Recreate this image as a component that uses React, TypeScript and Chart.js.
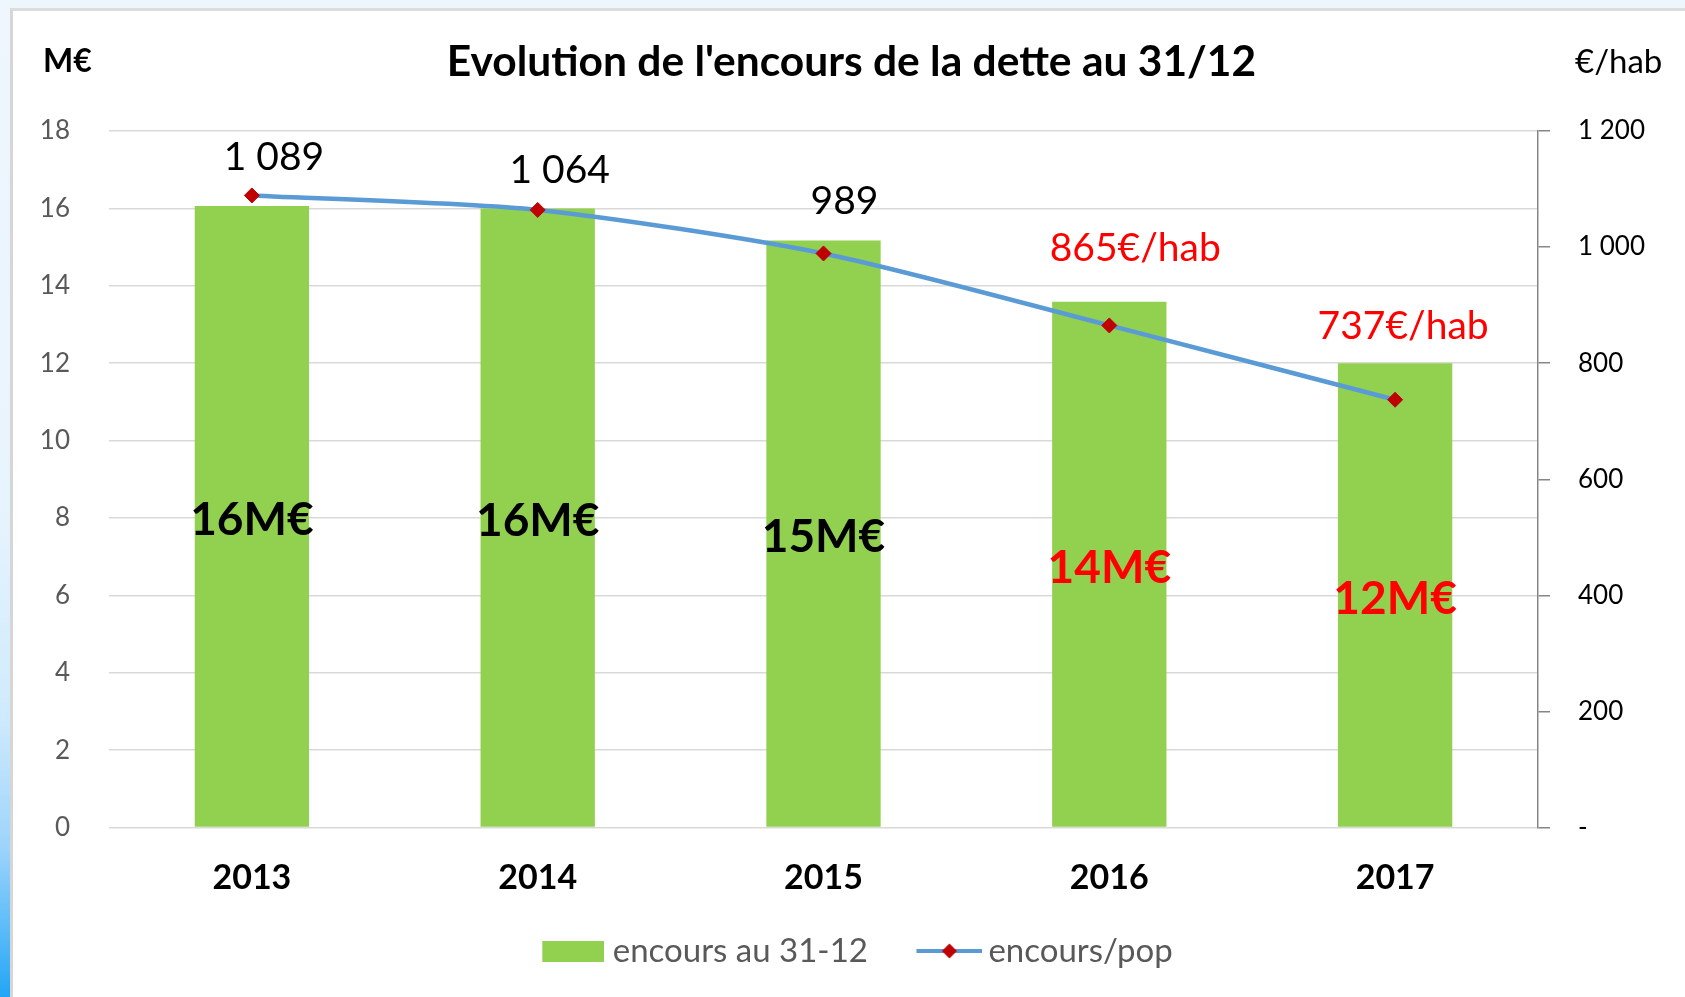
import React, { useEffect, useRef } from "react";
import { Chart, registerables } from "chart.js";

Chart.register(...registerables);

const categories = ["2013", "2014", "2015", "2016", "2017"];
const encoursMillions = [16.06, 16.0, 15.17, 13.59, 12.0];
const encoursParHab = [1089, 1064, 989, 865, 737];
const habSuffix = ["", "", "", "€/hab", "€/hab"];
const barLabelColors = ["#000000", "#000000", "#000000", "#ff0000", "#ff0000"];
const lineLabelColors = ["#000000", "#000000", "#000000", "#ff0000", "#ff0000"];
const lineLabelOffsets = [
  [22, -38],
  [22, -40],
  [21, -52],
  [26, -77],
  [8, -73],
];
const leftTicks = { min: 0, max: 18, step: 2 };
const rightTicks = { min: 0, max: 1200, step: 200 };

const FONT = "Lato";

function fmtThousands(v: number): string {
  const s = Math.round(v).toString();
  return s.replace(/\B(?=(\d{3})+(?!\d))/g, " ");
}

// legend glyphs: transparent left margin, visible part on the right
function makeBarLegendImage(): HTMLCanvasElement {
  const c = document.createElement("canvas");
  c.width = 100;
  c.height = 21;
  const ctx = c.getContext("2d")!;
  ctx.fillStyle = "#92d050";
  ctx.fillRect(38, 0, 62, 21);
  return c;
}

function makeLineLegendImage(): HTMLCanvasElement {
  const c = document.createElement("canvas");
  c.width = 105;
  c.height = 18;
  const ctx = c.getContext("2d")!;
  ctx.strokeStyle = "#5b9bd5";
  ctx.lineWidth = 4;
  ctx.beginPath();
  ctx.moveTo(39, 9);
  ctx.lineTo(105, 9);
  ctx.stroke();
  ctx.fillStyle = "#c00000";
  const cx = 72;
  ctx.beginPath();
  ctx.moveTo(cx, 1.5);
  ctx.lineTo(cx + 7.5, 9);
  ctx.lineTo(cx, 16.5);
  ctx.lineTo(cx - 7.5, 9);
  ctx.closePath();
  ctx.fill();
  return c;
}

const labelsPlugin = {
  id: "valueLabels",
  afterLayout(chart: any) {
    if (chart.titleBlock) {
      chart.titleBlock.left += 9;
      chart.titleBlock.right += 9;
    }
  },
  afterDatasetsDraw(chart: any) {
    const ctx = chart.ctx;
    ctx.save();
    const barMeta = chart.getDatasetMeta(0);
    ctx.font = `bold 46px ${FONT}`;
    ctx.textAlign = "center";
    ctx.textBaseline = "middle";
    barMeta.data.forEach((el: any, i: number) => {
      const v = encoursMillions[i];
      ctx.fillStyle = barLabelColors[i];
      ctx.fillText(`${Math.round(v)}M€`, el.x, (el.y + el.base) / 2 + 4);
    });
    const lineMeta = chart.getDatasetMeta(1);
    ctx.font = `39px ${FONT}`;
    lineMeta.data.forEach((el: any, i: number) => {
      const v = encoursParHab[i];
      ctx.fillStyle = lineLabelColors[i];
      const [dx, dy] = lineLabelOffsets[i];
      ctx.fillText(`${fmtThousands(v)}${habSuffix[i]}`, el.x + dx, el.y + dy);
    });
    // axis unit titles
    ctx.fillStyle = "#000000";
    ctx.textBaseline = "middle";
    ctx.textAlign = "left";
    ctx.font = `bold 32px ${FONT}`;
    ctx.fillText("M€", 43, 62);
    ctx.font = `33px ${FONT}`;
    ctx.fillText("€/hab", 1575, 62);
    ctx.restore();
  },
};

export default function App() {
  const canvasRef = useRef<HTMLCanvasElement | null>(null);

  useEffect(() => {
    if (!canvasRef.current) return;
    const barImg = makeBarLegendImage();
    const lineImg = makeLineLegendImage();
    const chart = new Chart(canvasRef.current, {
      type: "bar",
      data: {
        labels: categories,
        datasets: [
          {
            type: "bar",
            label: "encours au 31-12",
            data: encoursMillions,
            backgroundColor: "#92d050",
            borderWidth: 0,
            barPercentage: 0.4,
            categoryPercentage: 1,
            yAxisID: "y",
            order: 1,
          },
          {
            type: "line",
            label: "encours/pop",
            data: encoursParHab,
            borderColor: "#5b9bd5",
            borderWidth: 4.5,
            backgroundColor: "#c00000",
            pointStyle: "rectRot",
            pointRadius: 7.5,
            pointBackgroundColor: "#c00000",
            pointBorderColor: "#c00000",
            pointBorderWidth: 1,
            tension: 0.25,
            fill: false,
            yAxisID: "y1",
            order: 0,
          } as any,
        ],
      },
      options: {
        responsive: false,
        animation: false,
        layout: { padding: { left: 0, right: 0, top: 0, bottom: 19.5 } },
        plugins: {
          title: {
            display: true,
            text: "Evolution de l'encours de la dette au 31/12",
            color: "#000000",
            font: { family: FONT, size: 42.5, weight: "bold" },
            padding: { top: 36.5, bottom: 43.5 },
          },
          legend: {
            display: true,
            position: "bottom",
            labels: {
              usePointStyle: true,
              pointStyleWidth: 84,
              padding: 20,
              color: "#595959",
              font: { family: FONT, size: 33 },
              generateLabels: (ch: any) =>
                ch.data.datasets.map((ds: any, i: number) => ({
                  text: ds.label,
                  datasetIndex: i,
                  pointStyle: i === 0 ? barImg : lineImg,
                  fillStyle: "transparent",
                  strokeStyle: "transparent",
                  lineWidth: 0,
                  fontColor: "#595959",
                  hidden: false,
                })),
            },
          },
          tooltip: { enabled: false },
        },
        scales: {
          x: {
            grid: { display: false },
            border: { display: false },
            ticks: {
              color: "#000000",
              font: { family: FONT, size: 34, weight: "bold" },
              padding: 22.5,
            },
            afterFit: (s: any) => {
              s.height = 87;
            },
          },
          y: {
            position: "left",
            min: leftTicks.min,
            max: leftTicks.max,
            grid: { color: "#d9d9d9", lineWidth: 1.5, drawTicks: false },
            border: { display: false },
            ticks: {
              stepSize: leftTicks.step,
              color: "#595959",
              font: { family: FONT, size: 26 },
              padding: 39,
            },
            afterFit: (s: any) => {
              s.width = 109;
            },
          },
          y1: {
            position: "right",
            min: rightTicks.min,
            max: rightTicks.max,
            grid: {
              drawOnChartArea: false,
              drawTicks: true,
              tickLength: 12,
              color: "#868686",
              lineWidth: 1.5,
            },
            border: { display: true, color: "#868686", width: 1.5 },
            ticks: {
              stepSize: rightTicks.step,
              color: "#000000",
              font: { family: FONT, size: 26 },
              padding: 28,
              callback: (v: any) => (Number(v) === 0 ? "-" : fmtThousands(Number(v))),
            },
            afterFit: (s: any) => {
              s.width = 147;
            },
          },
        },
      },
      plugins: [labelsPlugin],
    });
    return () => chart.destroy();
  }, []);

  return (
    <div>
      <div
        style={{
          position: "fixed",
          left: 0,
          top: 0,
          width: 1685,
          height: 997,
          background: "#eef6fd",
        }}
      />
      <div
        style={{
          position: "fixed",
          left: 0,
          top: 0,
          width: 10,
          height: 997,
          background:
            "linear-gradient(to bottom, #eff6fd 0%, #e8f4fd 50%, #cfeafd 72%, #9dd4fb 85%, #55b9f8 94%, #22a5f6 100%)",
        }}
      />
      <div
        style={{
          position: "fixed",
          left: 10,
          top: 8,
          width: 1675,
          height: 989,
          background: "#ffffff",
          borderLeft: "3px solid #d6d6d6",
          borderTop: "3px solid #dcdcdc",
          boxSizing: "border-box",
        }}
      />
      <canvas
        ref={canvasRef}
        width={1685}
        height={997}
        style={{ position: "fixed", left: 0, top: 0, width: 1685, height: 997, display: "block" }}
      />
    </div>
  );
}
